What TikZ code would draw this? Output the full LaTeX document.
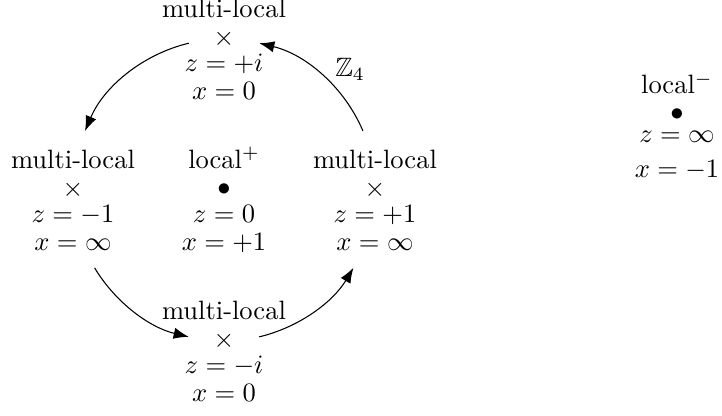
\documentclass[tikz,border=0pt]{standalone}
\usepackage{amsmath,amssymb}
\usetikzlibrary{arrows.meta,positioning}
\tikzset{
  site/.style={inner sep=0pt},
  tag/.style={inner sep=0pt},
  arrow/.style={-{Latex[length=2mm]}}
}

\begin{document}
\begin{tikzpicture}
\useasboundingbox (-2.967,-2.993) rectangle (6.596,2.517);
\node[site] (locPlus) at (0,0) {$\bullet$};
\node[site] (mlTop) at (0,2) {$\times$};
\node[site] (mlLeft) at (-2,0) {$\times$};
\node[site] (mlRight) at (2,0) {$\times$};
\node[site] (mlBot) at (0,-2) {$\times$};
\node[site] (locMinus) at (6,1) {$\bullet$};
% names above, values below
\node[tag,above=2.85mm of mlTop.center,anchor=base] (mlTopT) {multi-local};
\node[tag,below=4.3mm of mlTop.center,anchor=base] (mlTopZ) {$z=+i$};
\node[tag,below=7.95mm of mlTop.center,anchor=base] (mlTopX) {$x=0$};
\node[tag,above=2.85mm of mlLeft.center,anchor=base] (mlLeftT) {multi-local};
\node[tag,below=4.3mm of mlLeft.center,anchor=base] (mlLeftZ) {$z=-1$};
\node[tag,below=7.95mm of mlLeft.center,anchor=base] (mlLeftX) {$x=\infty$};
\node[tag,above=2.85mm of locPlus.center,anchor=base] (locPlusT) {local$^+$};
\node[tag,below=4.3mm of locPlus.center,anchor=base] (locPlusZ) {$z=0$};
\node[tag,below=7.95mm of locPlus.center,anchor=base] (locPlusX) {$x=+1$};
\node[tag,above=2.85mm of mlRight.center,anchor=base] (mlRightT) {multi-local};
\node[tag,below=4.3mm of mlRight.center,anchor=base] (mlRightZ) {$z=+1$};
\node[tag,below=7.95mm of mlRight.center,anchor=base] (mlRightX) {$x=\infty$};
\node[tag,above=2.85mm of mlBot.center,anchor=base] (mlBotT) {multi-local};
\node[tag,below=4.3mm of mlBot.center,anchor=base] (mlBotZ) {$z=-i$};
\node[tag,below=7.95mm of mlBot.center,anchor=base] (mlBotX) {$x=0$};
\node[tag,above=2.75mm of locMinus.center,anchor=base] (locMinusT) {local$^-$};
\node[tag,below=3.67mm of locMinus.center,anchor=base] (locMinusZ) {$z=\infty$};
\node[tag,below=8.3mm of locMinus.center,anchor=base] (locMinusX) {$x=-1$};
\node (zfour) at ([shift={(1.67,1.6)}]locPlus.center) {$\mathbb{Z}_4$};
% Z4 action on the circle of radius 2
\draw[arrow] ([shift={(23:2)}]locPlus.center) arc[start angle=23,end angle=76.5,radius=2];
\draw[arrow] ([shift={(103.5:2)}]locPlus.center) arc[start angle=103.5,end angle=157,radius=2];
\draw[arrow] ([shift={(211:2)}]locPlus.center) arc[start angle=211,end angle=256.5,radius=2];
\draw[arrow] ([shift={(283.5:2)}]locPlus.center) arc[start angle=283.5,end angle=329,radius=2];
\end{tikzpicture}
\end{document}
